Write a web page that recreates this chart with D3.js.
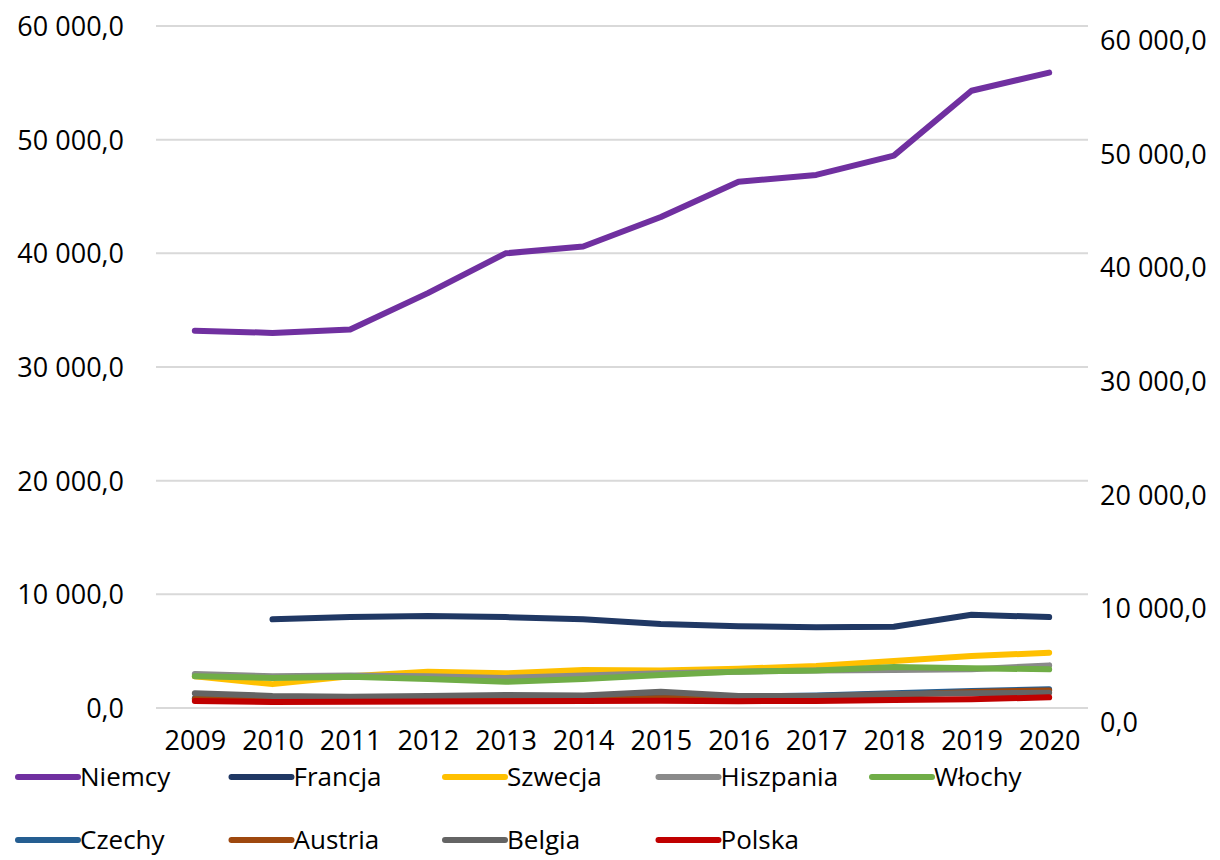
<!DOCTYPE html>
<html><head><meta charset="utf-8">
<script src="https://cdn.jsdelivr.net/npm/d3@7"></script>
<style>
html,body{margin:0;padding:0;background:#fff;}
text{font-family:"Open Sans","Noto Sans",sans-serif;fill:#000;}
</style></head>
<body><svg id="c" width="1220" height="860"></svg>
<script>
const years = ["2009","2010","2011","2012","2013","2014","2015","2016","2017","2018","2019","2020"];
const yTicks = [0,10000,20000,30000,40000,50000,60000];
const seriesNames = ["Niemcy","Francja","Szwecja","Hiszpania","Włochy","Czechy","Austria","Belgia","Polska"];
const seriesColors = ["#7030a0","#203864","#ffc000","#8a8a8a","#70ad47","#255e91","#9e480e","#646464","#c00000"];
const niemcy    = [33200,33000,33300,36500,40000,40600,43200,46300,46900,48600,54300,55900];
const francja   = [null,7800,8000,8100,8000,7800,7400,7200,7100,7150,8200,8000];
const szwecja   = [2800,2100,2800,3200,3050,3340,3300,3450,3700,4130,4570,4860];
const hiszpania = [3000,2800,2850,2800,2650,2850,3050,3200,3300,3350,3400,3750];
const wlochy    = [2800,2650,2750,2550,2300,2550,2900,3200,3300,3600,3500,3400];
const czechy    = [850,800,800,800,850,900,950,1000,1100,1300,1500,1650];
const austria   = [800,750,750,750,780,800,850,900,950,1150,1400,1550];
const belgia    = [1300,1060,1000,1050,1150,1100,1430,1050,1050,1230,1300,1350];
const polska    = [620,530,560,580,600,620,630,600,620,700,770,940];
const seriesValues = [niemcy,francja,szwecja,hiszpania,wlochy,czechy,austria,belgia,polska];

const svg = d3.select("#c");
const x = d3.scalePoint().domain(years).range([156,1088]).padding(0.5);
const y = d3.scaleLinear().domain([0,60000]).range([708,26]);
const yR = d3.scaleLinear().domain([0,60000]).range([722,40]);
const fmt = v => d3.format(",.1f")(v).replace(/,/g," ").replace(".",",");

// gridlines
svg.append("g").selectAll("line").data(yTicks).join("line")
  .attr("x1",156).attr("x2",1088).attr("y1",d=>y(d)).attr("y2",d=>y(d))
  .attr("stroke","#d9d9d9").attr("stroke-width",2);

// left axis
const gl = svg.append("g").attr("transform","translate(124,0)")
  .call(d3.axisLeft(y).tickValues(yTicks).tickFormat(fmt).tickSize(0).tickPadding(0));
gl.select(".domain").remove();
gl.selectAll("text").attr("font-size",27).attr("dy","0.35em");

// right axis
const gr = svg.append("g").attr("transform","translate(1100,0)")
  .call(d3.axisRight(yR).tickValues(yTicks).tickFormat(fmt).tickSize(0).tickPadding(0));
gr.select(".domain").remove();
gr.selectAll("text").attr("font-size",27).attr("dy","0.35em");

// x axis
const gx = svg.append("g").attr("transform","translate(0,731)")
  .call(d3.axisBottom(x).tickSize(0).tickPadding(0));
gx.select(".domain").remove();
gx.selectAll("text").attr("font-size",27).attr("dy","0.71em");

// lines
const mk = d3.line().defined(d=>d.v!=null).x(d=>x(d.year)).y(d=>y(d.v));
seriesValues.forEach((vals,i)=>{
  svg.append("path").datum(vals.map((v,j)=>({year:years[j],v:v}))).attr("d",mk)
    .attr("fill","none").attr("stroke",seriesColors[i]).attr("stroke-width",6)
    .attr("stroke-linecap","round").attr("stroke-linejoin","round");
});

// legend
const leg = svg.append("g");
seriesNames.forEach((n,i)=>{
  const col = i<5 ? i : i-5;
  const row = i<5 ? 0 : 1;
  const lx = 18 + col*213.5;
  const ly = 777 + row*63;
  leg.append("line").attr("x1",lx).attr("x2",lx+60).attr("y1",ly).attr("y2",ly)
    .attr("stroke",seriesColors[i]).attr("stroke-width",6).attr("stroke-linecap","round");
  leg.append("text").attr("x",lx+62).attr("y",ly).attr("dy","0.35em")
    .attr("font-size",26).text(n);
});
</script></body></html>
